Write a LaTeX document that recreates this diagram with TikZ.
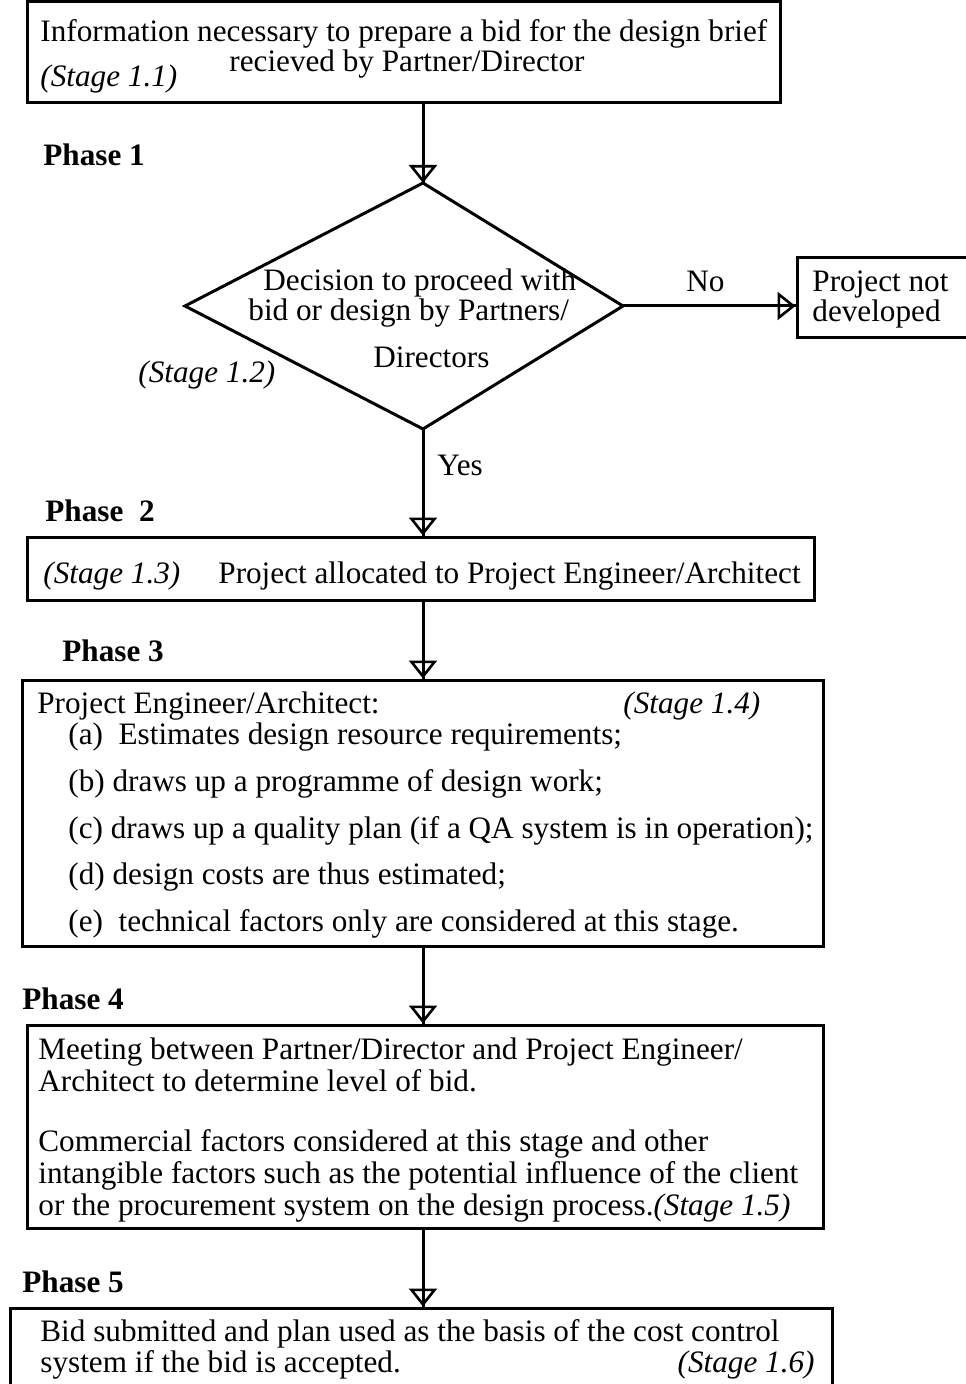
\documentclass[tikz,border=0pt]{standalone}
\usepackage{fontspec}
\setmainfont{Liberation Serif}
\usetikzlibrary{arrows.meta}

\tikzset{
  x=0.5pt, y=-0.5pt,
  txt/.style={inner sep=0pt, anchor=base west, font=\fontsize{15.6pt}{16pt}\selectfont},
  txtr/.style={txt, anchor=base east},
  stg/.style={txt, font=\fontsize{15.6pt}{16pt}\selectfont\itshape},
  stgr/.style={stg, anchor=base east},
  phase/.style={txt, font=\fontsize{15.6pt}{16pt}\selectfont\bfseries},
  box/.style={draw, line width=1.5pt, inner sep=0pt},
  flow/.style={line width=1.5pt,
    postaction={draw, -{Triangle[open, length=9pt, width=14pt, line width=1.3pt]}}},
}

\begin{document}
\begin{tikzpicture}
\useasboundingbox (0,0) rectangle (965,1384);

% ---- boxes (corner coordinates in drawing units) ----
\node[box, minimum width=376.5pt, minimum height=50.5pt] (b1) at (403.5,52.5) {};
\node[box, minimum width=85.5pt,  minimum height=40pt]   (pn) at (882.5,298) {};
\node[box, minimum width=393.5pt, minimum height=31.5pt] (b2) at (420.5,568.5) {};
\node[box, minimum width=400.5pt, minimum height=133pt]  (b3) at (422.5,813) {};
\node[box, minimum width=398pt,   minimum height=101.5pt](b4) at (425,1126.5) {};
\node[box, minimum width=411pt,   minimum height=48pt]   (b5) at (421,1356) {};

% ---- decision diamond ----
\coordinate (dtop)   at (423,183);
\coordinate (dleft)  at (185,306);
\coordinate (dright) at (623,306);
\coordinate (dbot)   at (423,429);
\draw[line width=1.5pt, line join=miter] (dtop) -- (dleft) -- (dbot) -- (dright) -- cycle;

% ---- connectors ----
\draw[flow] (dtop |- b1.south) -- (dtop);
\draw[flow] (dright) -- (dright -| pn.west);
\draw[flow] (dbot) -- (dbot |- b2.north);
\draw[flow] (dbot |- b2.south) -- (dbot |- b3.north);
\draw[flow] (dbot |- b3.south) -- (dbot |- b4.north);
\draw[flow] (dbot |- b4.south) -- (dbot |- b5.north);

% ---- stage 1.1 ----
\node[txt] (t11a) at (40,42) {Information necessary to prepare a bid for the design brief};
\node[txt] (t11b) at (229,72) {recieved by Partner/Director};
\node[stg] (s11) at (40,87) {(Stage 1.1)};

\node[phase] (p1) at (43,166) {Phase 1};

% ---- stage 1.2 ----
\node[txt] (t12a) at (263,291) {Decision to proceed with};
\node[txt] (t12b) at (248,321) {bid or design by Partners/};
\node[txt] (t12c) at (373,368) {Directors};
\node[stg] (s12) at (138,383) {(Stage 1.2)};

\node[txt] (no) at (686,292) {No};
\node[txt] (pna) at (812,292) {Project not};
\node[txt] (pnb) at (812,322) {developed};
\node[txt] (yes) at (437,476) {Yes};

% ---- stage 1.3 ----
\node[phase] (p2) at (45,522) {Phase~ 2};
\node[stg] (s13) at (43,583) {(Stage 1.3)};
\node[txt] (t13) at (218,583) {Project allocated to Project Engineer/Architect};

% ---- stage 1.4 ----
\node[phase] (p3) at (62,661) {Phase 3};
\node[txt] (t14) at (37,713) {Project Engineer/Architect:};
\node[stg] (s14) at (623,713) {(Stage 1.4)};
\node[txt] (ia) at (68,744) {(a)~ Estimates design resource requirements;};
\node[txt] (ib) at (68,791) {(b) draws up a programme of design work;};
\node[txt] (ic) at (68,838) {(c) draws up a quality plan (if a QA system is in operation);};
\node[txt] (id) at (68,884) {(d) design costs are thus estimated;};
\node[txt] (ie) at (68,931) {(e)~ technical factors only are considered at this stage.};

% ---- stage 1.5 ----
\node[phase] (p4) at (22,1009) {Phase 4};
\node[txt] (t15a) at (38,1059) {Meeting between Partner/Director and Project Engineer/};
\node[txt] (t15b) at (38,1091) {Architect to determine level of bid.};
\node[txt] (t15c) at (38,1151) {Commercial factors considered at this stage and other};
\node[txt] (t15d) at (38,1183) {intangible factors such as the potential influence of the client};
\node[txt] (t15e) at (38,1215) {or the procurement system on the design process.\textit{(Stage 1.5)}};

% ---- stage 1.6 ----
\node[phase] (p5) at (22,1292) {Phase 5};
\node[txt] (t16a) at (40,1341) {Bid submitted and plan used as the basis of the cost control};
\node[txt] (t16b) at (40,1372) {system if the bid is accepted.};
\node[stgr] (s16) at (815,1372) {(Stage 1.6)};
\end{tikzpicture}
\end{document}
